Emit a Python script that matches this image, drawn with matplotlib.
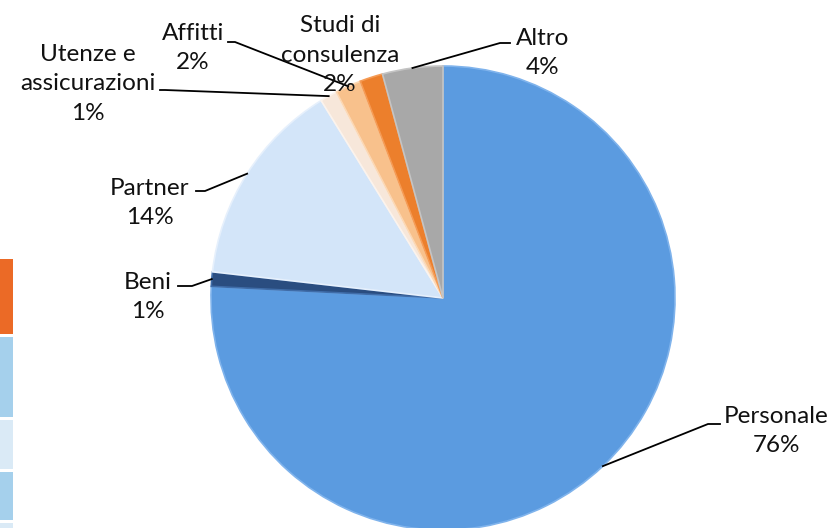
import numpy as np
import matplotlib.pyplot as plt
from matplotlib.patches import Rectangle

# Dati
voci = ["Personale", "Beni", "Partner", "Utenze e\nassicurazioni", "Affitti", "Studi di\nconsulenza", "Altro"]
quote = [75.8, 1.0, 14.4, 1.2, 1.8, 1.6, 4.2]
colori = ["#5B9BE0", "#2A4D80", "#D3E5F9", "#F7E7DA", "#F8C18C", "#EC7F2C", "#A8A8A8"]
bordi = ["#7FB3EC", "#3F6CA8", "#E6F0FC", "#FCF3EC", "#FCD8B4", "#F59B55", "#C4C4C4"]

W, H = 835, 528
fig = plt.figure(figsize=(W / 100, H / 100), dpi=100)
ax = fig.add_axes([0, 0, 1, 1])

plt.rcParams["font.family"] = ["Lato", "DejaVu Sans"]

cx, cy, r = 443, H - 298, 232
wedges, _ = ax.pie(quote, colors=colori, startangle=90, counterclock=False,
                   center=(cx, cy), radius=r, frame=True,
                   wedgeprops=dict(linewidth=1.2))
for w, b in zip(wedges, bordi):
    w.set_edgecolor(b)
ax.set_xlim(0, W)
ax.set_ylim(0, H)
ax.set_aspect("equal")
ax.axis("off")

# posizione testo (pixel), gomito e fine della linea guida
testo = [(776, 431), (148, 297), (150, 203), (88, 84), (193, 48), (340, 55), (543, 53)]
linee = [[(708, 424), (720, 424)],
         [(192, 286), (178, 286)],
         [(205, 191), (196, 191)],
         [(165, 90), (160, 90)],
         [(235, 42), (228, 42)],
         None,
         [(500, 43), (510, 43)]]

for w, nome, q, (tx, ty), ln in zip(wedges, voci, quote, testo, linee):
    ang = np.deg2rad((w.theta1 + w.theta2) / 2)
    ax.text(tx, H - ty, f"{nome}\n{q:.0f}%", ha="center", va="center",
            fontsize=17.5, linespacing=1.5, color="#111111")
    if ln is not None:
        px = cx + r * np.cos(ang)
        py = cy + r * np.sin(ang)
        xs = [px] + [p[0] for p in ln]
        ys = [py] + [H - p[1] for p in ln]
        ax.plot(xs, ys, color="black", lw=1.3)

# pezzi di un altro grafico tagliati sul bordo sinistro
strisce = [(259, 334, "#EB6A26"), (337, 417, "#A5D0EC"), (420, 469, "#DAEAF6"),
           (472, 520, "#A5D0EC"), (523, 528, "#DAEAF6")]
for y0, y1, c in strisce:
    ax.add_patch(Rectangle((0, H - y1), 12.5, y1 - y0, color=c, lw=0))

fig.savefig("out.png", dpi=100)
